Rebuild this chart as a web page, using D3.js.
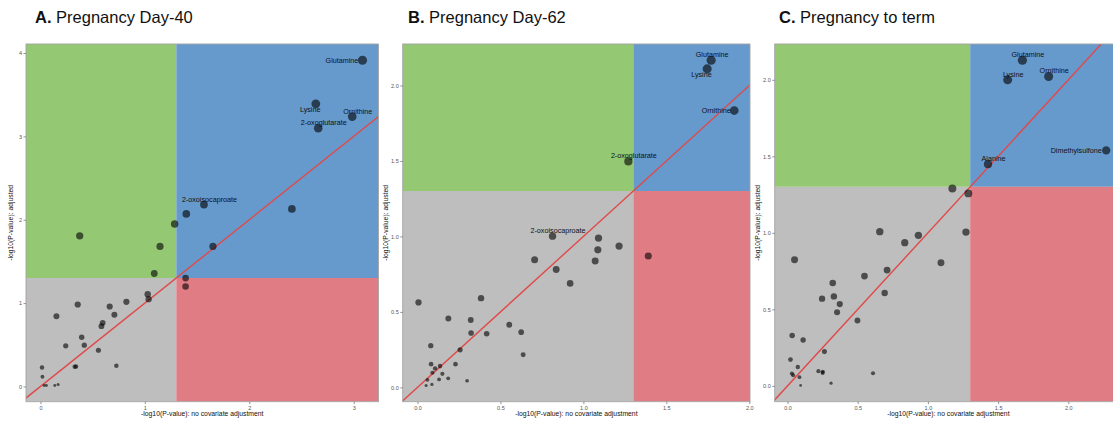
<!DOCTYPE html>
<html>
<head>
<meta charset="utf-8">
<script src="https://cdn.jsdelivr.net/npm/d3@7"></script>
<style>
  body { margin: 0; background: #fff; }
  text { font-family: "Liberation Sans", Arial, Helvetica, sans-serif; }
</style>
</head>
<body>
<svg id="chart" width="1113" height="423"></svg>
<script>
// -log10(P) without covariate adjustment (x) and with adjustment (y).
// The first entries of each panel are the named metabolites.

// Panel A: Pregnancy Day-40
const labelsA = ["Glutamine", "Lysine", "Ornithine", "2-oxoglutarate", "2-oxoisocaproate"];
const xA = [3.084, 2.637, 2.986, 2.660, 1.566,
  1.397, 2.408, 1.285, 0.376, 1.145, 1.652, 1.090, 1.390, 1.390, 1.027, 1.036,
  0.823, 0.357, 0.663, 0.708, 0.153, 0.596, 0.584, 0.395, 0.420, 0.242, 0.555,
  0.328, 0.341, 0.727, 0.015, 0.019, 0.035, 0.057, 0.137, 0.169];
const yA = [3.913, 3.390, 3.237, 3.097, 2.182,
  2.070, 2.130, 1.950, 1.807, 1.680, 1.680, 1.355, 1.300, 1.200, 1.107, 1.047,
  1.015, 0.983, 0.959, 0.860, 0.843, 0.763, 0.723, 0.591, 0.495, 0.488, 0.435,
  0.236, 0.240, 0.248, 0.228, 0.116, 0.012, 0.012, 0.012, 0.024];

// Panel B: Pregnancy Day-62
const labelsB = ["Glutamine", "Lysine", "Ornithine", "2-oxoglutarate", "2-oxoisocaproate"];
const xB = [1.770, 1.746, 1.909, 1.271, 0.814,
  1.091, 1.087, 1.071, 1.215, 1.391, 0.706, 0.836, 0.920, 0.006, 0.383, 0.186,
  0.321, 0.323, 0.417, 0.553, 0.625, 0.637, 0.080, 0.257, 0.082, 0.106, 0.136,
  0.229, 0.090, 0.150, 0.060, 0.130, 0.185, 0.299, 0.052, 0.087];
const yB = [2.167, 2.110, 1.834, 1.497, 1.002,
  0.989, 0.911, 0.838, 0.936, 0.870, 0.845, 0.781, 0.689, 0.563, 0.591, 0.457,
  0.446, 0.360, 0.355, 0.415, 0.366, 0.216, 0.276, 0.249, 0.154, 0.126, 0.141,
  0.154, 0.097, 0.090, 0.050, 0.053, 0.060, 0.044, 0.013, 0.020];

// Panel C: Pregnancy to term
const labelsC = ["Glutamine", "Lysine", "Ornithine", "Dimethylsulfone", "Alanine"];
const xC = [1.673, 1.568, 1.860, 2.270, 1.428,
  1.174, 1.288, 0.657, 0.932, 0.835, 1.271, 0.050, 1.093, 0.709, 0.548, 0.322,
  0.692, 0.246, 0.330, 0.372, 0.353, 0.498, 0.033, 0.111, 0.263, 0.021, 0.073,
  0.031, 0.040, 0.085, 0.220, 0.251, 0.250, 0.093, 0.310, 0.609];
const yC = [2.128, 2.000, 2.022, 1.539, 1.449,
  1.290, 1.258, 1.008, 0.984, 0.936, 1.005, 0.825, 0.805, 0.757, 0.718, 0.672,
  0.607, 0.570, 0.585, 0.535, 0.481, 0.427, 0.329, 0.300, 0.224, 0.172, 0.124,
  0.081, 0.070, 0.057, 0.096, 0.092, 0.085, 0.003, 0.018, 0.083];

const ticksA = [0, 1, 2, 3, 4];
const ticksBC = [0, 0.5, 1.0, 1.5, 2.0];

// Significance threshold: -log10(0.05)
const threshold = -Math.log10(0.05);

const colors = {
  gray: "#bebebe",
  green: "#94c873",
  blue: "#6699cc",
  red: "#e07c84",
  line: "#e04a4a",
  point: "#000000",
  border: "#a3a3a3",
  tick: "#555555"
};

// Layout of the three panels (plot area in pixels)
const panels = [
  { key: "A", title: "Pregnancy Day-40", labels: labelsA, xs: xA, ys: yA,
    ticks: ticksA, fmt: d3.format("d"),
    left: 26, right: 378.5, titleX: 35, yTitleX: 10,
    nudge: { "Glutamine": [-20.5, 0], "Lysine": [-5.6, 6] } },
  { key: "B", title: "Pregnancy Day-62", labels: labelsB, xs: xB, ys: yB,
    ticks: ticksBC, fmt: d3.format(".1f"),
    left: 402.7, right: 750, titleX: 408, yTitleX: 385,
    nudge: { "Glutamine": [1, -5.7], "Lysine": [-5.7, 5.6], "Ornithine": [-18, 0] } },
  { key: "C", title: "Pregnancy to term", labels: labelsC, xs: xC, ys: yC,
    ticks: ticksBC, fmt: d3.format(".1f"),
    left: 774.7, right: 1122, titleX: 779, yTitleX: 757,
    nudge: { "Dimethylsulfone": [-30, 0] } }
];
const plotTop = 44, plotBottom = 401.7;
const defaultNudge = [5.5, -5.5];

const svg = d3.select("#chart");

// ggplot-style 5% expansion of the data range
function expanded(vals) {
  const [lo, hi] = d3.extent(vals);
  const pad = (hi - lo) * 0.05;
  return [lo - pad, hi + pad];
}

panels.forEach(p => {
  const x = d3.scaleLinear().domain(expanded(p.xs)).range([p.left, p.right]);
  const y = d3.scaleLinear().domain(expanded(p.ys)).range([plotBottom, plotTop]);
  const [x0, x1] = x.domain();
  const [y0, y1] = y.domain();
  const yMax = d3.max(p.ys);
  const r = d3.scalePow().exponent(0.4).domain([0, yMax]).range([1.1, 4.6]);

  const g = svg.append("g");
  const clipId = "clip" + p.key;
  g.append("clipPath").attr("id", clipId)
    .append("rect")
    .attr("x", p.left).attr("y", plotTop)
    .attr("width", p.right - p.left).attr("height", plotBottom - plotTop);

  const plot = g.append("g").attr("clip-path", `url(#${clipId})`);

  // quadrant backgrounds
  const regions = [
    { xa: x0, xb: threshold, ya: y0, yb: threshold, fill: colors.gray },
    { xa: x0, xb: threshold, ya: threshold, yb: y1, fill: colors.green },
    { xa: threshold, xb: x1, ya: threshold, yb: y1, fill: colors.blue },
    { xa: threshold, xb: x1, ya: y0, yb: threshold, fill: colors.red }
  ];
  plot.selectAll("rect.region").data(regions).join("rect")
    .attr("class", "region")
    .attr("x", d => x(d.xa))
    .attr("y", d => y(d.yb))
    .attr("width", d => x(d.xb) - x(d.xa))
    .attr("height", d => y(d.ya) - y(d.yb))
    .attr("fill", d => d.fill);

  // identity line y = x
  const lo = Math.min(x0, y0), hi = Math.max(x1, y1);
  plot.append("line")
    .attr("x1", x(lo)).attr("y1", y(lo))
    .attr("x2", x(hi)).attr("y2", y(hi))
    .attr("stroke", colors.line).attr("stroke-width", 1.4);

  // points
  const pts = p.xs.map((v, k) => ({ x: v, y: p.ys[k], name: p.labels[k] || "" }));
  plot.selectAll("circle").data(pts).join("circle")
    .attr("cx", d => x(d.x))
    .attr("cy", d => y(d.y))
    .attr("r", d => r(d.y))
    .attr("fill", colors.point)
    .attr("fill-opacity", 0.6);

  // metabolite labels
  plot.selectAll("text.lab").data(pts.filter(d => d.name)).join("text")
    .attr("class", "lab")
    .attr("x", d => x(d.x) + (p.nudge[d.name] || defaultNudge)[0])
    .attr("y", d => y(d.y) + (p.nudge[d.name] || defaultNudge)[1])
    .attr("text-anchor", "middle")
    .attr("dominant-baseline", "central")
    .attr("font-size", 7.2)
    .attr("fill", "#111")
    .text(d => d.name);

  // panel border
  g.append("rect")
    .attr("x", p.left).attr("y", plotTop)
    .attr("width", p.right - p.left).attr("height", plotBottom - plotTop)
    .attr("fill", "none").attr("stroke", colors.border).attr("stroke-width", 0.9);

  // axes (only ticks that fall inside each panel's range)
  const inX = p.ticks.filter(v => v >= x0 && v <= x1);
  const inY = p.ticks.filter(v => v >= y0 && v <= y1);
  const xAxis = d3.axisBottom(x).tickValues(inX).tickFormat(p.fmt).tickSize(2.5).tickPadding(1.5);
  const yAxis = d3.axisLeft(y).tickValues(inY).tickFormat(p.fmt).tickSize(2.5).tickPadding(1.5);
  const gx = g.append("g").attr("transform", `translate(0,${plotBottom})`).call(xAxis);
  const gy = g.append("g").attr("transform", `translate(${p.left},0)`).call(yAxis);
  [gx, gy].forEach(a => {
    a.select(".domain").remove();
    a.selectAll(".tick line").attr("stroke", colors.tick).attr("stroke-width", 0.6);
    a.selectAll(".tick text").attr("fill", colors.tick).attr("font-size", 5.5)
      .attr("font-family", "Liberation Sans, Arial, sans-serif");
  });

  // axis titles
  g.append("text")
    .attr("x", (p.left + p.right) / 2)
    .attr("y", 416)
    .attr("text-anchor", "middle")
    .attr("font-size", 6.8)
    .attr("fill", "#111")
    .text("-log10(P-value): no covariate adjustment");

  g.append("text")
    .attr("transform", `translate(${p.yTitleX},${(plotTop + plotBottom) / 2}) rotate(-90)`)
    .attr("text-anchor", "middle")
    .attr("dominant-baseline", "central")
    .attr("font-size", 6.8)
    .attr("fill", "#111")
    .text("-log10(P-value): adjusted");

  // panel title
  const t = g.append("text")
    .attr("x", p.titleX).attr("y", 23)
    .attr("font-size", 16.5)
    .attr("fill", "#111");
  t.append("tspan").attr("font-weight", "bold").text(p.key + ".");
  t.append("tspan").text(" " + p.title);
});
</script>
</body>
</html>
